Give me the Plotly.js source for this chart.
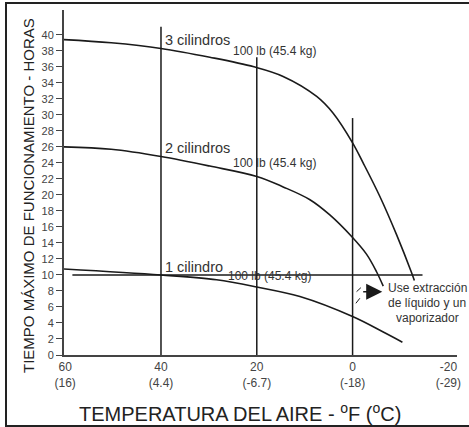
<!DOCTYPE html>
<html><head><meta charset="utf-8">
<script src="https://cdn.plot.ly/plotly-3.0.1.min.js"></script>
<style>
html,body{margin:0;padding:0;background:#fff;overflow:hidden;}
#chart{width:469px;height:427px;position:absolute;left:0;top:0;}
#frame{position:absolute;left:5px;top:2px;width:470px;height:421px;border:2px solid #222;pointer-events:none;}
</style></head><body>
<div id="chart"></div><div id="frame"></div>
<script>
// Temperature (°F) and maximum running hours for each cylinder count
const temp3 = [60.25, 50.4, 40, 29.8, 20.6, 14.5, 7.5, 4.05, 0, -2.2, -5.7, -9.2, -12.3, -12.9];
const hours3 = [39.4, 39.0, 38.3, 37.2, 36.0, 34.8, 32.3, 30.2, 26.5, 24.0, 19.8, 15.0, 10.3, 9.3];
const temp2 = [60.25, 50.4, 40, 29.8, 20, 14.5, 8.9, 4.75, 0.2, -2.9, -5.0, -6.4];
const hours2 = [26.0, 25.7, 24.8, 23.6, 22.3, 21.0, 19.4, 17.5, 14.8, 12.6, 10.4, 8.6];
const temp1 = [60.25, 40, 28.4, 20, 11, 0, -6.3, -10.4];
const hours1 = [10.75, 10.0, 9.4, 8.5, 7.3, 4.8, 2.9, 1.6];

// Reference lines
const vlineTemps = [40, 20, 0];
const vlineTops = [41, 37.2, 29.6];
const hlineHours = 10;
const hlineFrom = 58.5, hlineTo = -14.6;

// Tick labels
const xTickVals = [60, 40, 20, 0, -20];
const xTickText = ['60<br>(16)', '40<br>(4.4)', '20<br>(-6.7)', '0<br>(-18)', '-20<br>(-29)'];
const yTickVals = [0,2,4,6,8,10,12,14,16,18,20,22,24,26,28,30,32,34,36,38,40];

// Labels
const seriesLabels = ['3 cilindros', '2 cilindros', '1 cilindro'];
const weightLabel = '100 lb (45.4 kg)';
const noteLines = ['Use extracción', 'de líquido y un', 'vaporizador'];
const xTitle = 'TEMPERATURA DEL AIRE - <sup>o</sup>F (<sup>o</sup>C)';
const yTitle = 'TIEMPO MÁXIMO DE FUNCIONAMIENTO - HORAS';

// Arrow and motion marks
const arrowFrom = [-1.9, 7.9], arrowTo = [-6.2, 7.9];
const marksX = [-0.83, -1.73, null, -0.69, -1.52];
const marksY = [7.91, 8.41, null, 6.46, 7.09];

const curveStyle = {color: '#1a1a1a', width: 1.6, shape: 'spline', smoothing: 1};
const traces = [
  {x: temp3, y: hours3, mode: 'lines', line: curveStyle, hoverinfo: 'skip'},
  {x: temp2, y: hours2, mode: 'lines', line: curveStyle, hoverinfo: 'skip'},
  {x: temp1, y: hours1, mode: 'lines', line: curveStyle, hoverinfo: 'skip'}
];
vlineTemps.forEach((t, i) => {
  traces.push({x: [t, t], y: [0, vlineTops[i]], mode: 'lines', line: {color: '#1a1a1a', width: 1.5}, hoverinfo: 'skip'});
});
traces.push({x: [hlineFrom, hlineTo], y: [hlineHours, hlineHours], mode: 'lines', line: {color: '#1a1a1a', width: 1.5}, hoverinfo: 'skip'});
traces.push({x: marksX, y: marksY, mode: 'lines', line: {color: '#1a1a1a', width: 1}, hoverinfo: 'skip'});

const F = 'Liberation Sans, Arial, sans-serif';
const txt = (x, y, text, size, xanchor) => ({x, y, xref: 'x', yref: 'y', text, showarrow: false, xanchor: xanchor || 'left', yanchor: 'middle', font: {family: F, size, color: '#333'}});

const annotations = [
  txt(39.6, 39.4, seriesLabels[0], 14.5),
  txt(16.4, 38.0, weightLabel, 12, 'center'),
  txt(39.6, 25.9, seriesLabels[1], 14.5),
  txt(16.4, 24.0, weightLabel, 12, 'center'),
  txt(39.6, 11.0, seriesLabels[2], 14.5),
  txt(26.5, 9.9, weightLabel, 12),
  txt(-15.6, 8.4, noteLines[0], 12, 'center'),
  txt(-15.6, 6.5, noteLines[1], 12, 'center'),
  txt(-15.6, 4.6, noteLines[2], 12, 'center'),
  {x: arrowTo[0], y: arrowTo[1], ax: arrowFrom[0], ay: arrowFrom[1], xref: 'x', yref: 'y', axref: 'x', ayref: 'y',
   text: '', showarrow: true, arrowhead: 2, arrowsize: 2.3, arrowwidth: 1.4, arrowcolor: '#1a1a1a'},
  {x: 0.448, y: -0.168, xref: 'paper', yref: 'paper', text: xTitle, showarrow: false, xanchor: 'center', yanchor: 'middle',
   font: {family: F, size: 20, color: '#222'}},
  {x: -0.089, y: 0.461, xref: 'paper', yref: 'paper', text: yTitle, showarrow: false, textangle: -90, xanchor: 'center', yanchor: 'middle',
   font: {family: F, size: 15, color: '#222'}}
];

const layout = {
  width: 469, height: 427,
  margin: {l: 64, r: 12, t: 10, b: 72},
  paper_bgcolor: '#fff', plot_bgcolor: '#fff',
  showlegend: false,
  font: {family: F, color: '#333'},
  xaxis: {
    range: [60.25, -21.8], tickvals: xTickVals, ticktext: xTickText, ticks: '',
    showline: true, linewidth: 2, linecolor: '#444', showgrid: false, zeroline: false,
    tickfont: {family: F, size: 12, color: '#444'}
  },
  yaxis: {
    range: [0, 43.1], tickvals: yTickVals, ticks: 'outside', ticklen: 6, tickcolor: '#444', tickwidth: 1,
    showline: true, linewidth: 2, linecolor: '#444', showgrid: false, zeroline: false,
    tickfont: {family: F, size: 11, color: '#444'}
  },
  annotations
};
Plotly.newPlot('chart', traces, layout, {staticPlot: true, displayModeBar: false});
</script>
</body></html>
